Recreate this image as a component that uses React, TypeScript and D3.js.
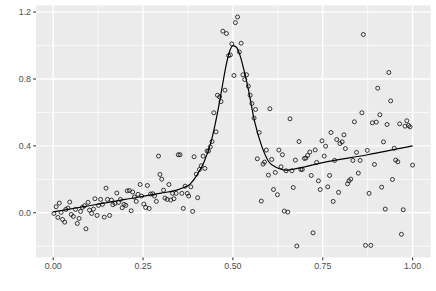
import React, { useEffect, useRef } from "react";
import * as d3 from "d3";

// points
const xValues = [
  0.002, 0.008, 0.013, 0.017, 0.022, 0.026, 0.032, 0.035, 0.041, 0.046,
  0.050, 0.056, 0.062, 0.067, 0.072, 0.076, 0.081, 0.087, 0.091, 0.097,
  0.101, 0.107, 0.112, 0.116, 0.122, 0.126, 0.132, 0.137, 0.142, 0.147,
  0.151, 0.157, 0.162, 0.166, 0.172, 0.177, 0.182, 0.187, 0.192, 0.197,
  0.202, 0.206, 0.212, 0.217, 0.221, 0.226, 0.231, 0.236, 0.242, 0.246,
  0.252, 0.257, 0.262, 0.267, 0.271, 0.277, 0.282, 0.287, 0.293, 0.297,
  0.302, 0.307, 0.311, 0.317, 0.322, 0.327, 0.332, 0.336, 0.342, 0.348,
  0.353, 0.358, 0.362, 0.367, 0.373, 0.377, 0.383, 0.388, 0.392, 0.398,
  0.402, 0.407, 0.412, 0.417, 0.422, 0.428, 0.432, 0.437, 0.442, 0.447,
  0.453, 0.457, 0.463, 0.467, 0.472, 0.478, 0.482, 0.488, 0.493, 0.497,
  0.503, 0.507, 0.513, 0.518, 0.523, 0.528, 0.533, 0.538, 0.543, 0.548,
  0.553, 0.559, 0.563, 0.568, 0.573, 0.579, 0.584, 0.588, 0.593, 0.599,
  0.603, 0.608, 0.613, 0.618, 0.624, 0.628, 0.634, 0.638, 0.643, 0.648,
  0.653, 0.659, 0.664, 0.668, 0.674, 0.678, 0.684, 0.689, 0.693, 0.699,
  0.703, 0.708, 0.714, 0.718, 0.723, 0.729, 0.733, 0.738, 0.743, 0.748,
  0.754, 0.758, 0.764, 0.769, 0.773, 0.779, 0.783, 0.789, 0.794, 0.798,
  0.804, 0.809, 0.813, 0.819, 0.823, 0.828, 0.834, 0.838, 0.844, 0.849,
  0.854, 0.859, 0.863, 0.869, 0.874, 0.879, 0.884, 0.888, 0.894, 0.899,
  0.903, 0.909, 0.914, 0.919, 0.924, 0.929, 0.934, 0.939, 0.944, 0.949,
  0.953, 0.959, 0.964, 0.969, 0.974, 0.979, 0.984, 0.989, 0.993, 1.0,
];

const yValues = [
  -0.004, 0.036, -0.028, 0.058, 0.002, -0.04, -0.056, 0.02, 0.028, 0.064,
  -0.01, -0.022, 0.02, -0.064, -0.034, 0.008, 0.032, 0.042, -0.096, 0.062,
  0.016, -0.004, 0.022, 0.084, -0.016, 0.044, 0.08, 0.05, -0.026, 0.147,
  0.08, -0.016, 0.076, 0.048, 0.056, 0.118, 0.062, 0.08, 0.03, 0.05,
  0.044, 0.131, 0.133, 0.012, 0.124, 0.094, 0.068, 0.11, 0.169, 0.1,
  0.052, 0.032, 0.163, 0.026, 0.112, 0.114, 0.1, 0.068, 0.339, 0.229,
  0.201, 0.135, 0.088, 0.08, 0.169, 0.076, 0.116, 0.084, 0.116, 0.347,
  0.347, 0.116, 0.026, 0.159, 0.116, 0.1, 0.155, 0.008, 0.335, 0.231,
  0.09, 0.259, 0.281, 0.339, 0.265, 0.369, 0.369, 0.394, 0.426, 0.598,
  0.484, 0.703, 0.693, 0.665, 1.086, 0.733, 1.072, 0.94, 0.944, 1.01,
  0.821, 1.137, 1.171, 0.962, 1.014, 0.825, 0.797, 0.825, 0.757, 0.703,
  0.653, 0.566, 0.618, 0.323, 0.48, 0.07, 0.291, 0.303, 0.375, 0.225,
  0.622, 0.319, 0.139, 0.241, 0.108, 0.375, 0.275, 0.347, 0.01, 0.251,
  0.004, 0.562, 0.251, 0.151, 0.315, -0.199, 0.426, 0.259, 0.259, 0.325,
  0.327, 0.343, 0.363, 0.223, -0.12, 0.376, 0.301, 0.191, 0.139, 0.43,
  0.339, 0.398, 0.155, 0.223, 0.48, 0.068, 0.313, 0.438, 0.122, 0.414,
  0.424, 0.466, 0.384, 0.173, 0.191, 0.201, 0.313, 0.544, 0.361, 0.237,
  0.313, 0.598, 1.066, -0.195, 0.373, 0.116, -0.195, 0.538, 0.289, 0.542,
  0.745, 0.586, 0.153, 0.424, 0.022, 0.528, 0.839, 0.669, 0.199, 0.386,
  0.315, 0.305, 0.532, -0.129, 0.018, 0.518, 0.55, 0.522, 0.514, 0.285,
];

// fitted curve
const fitX = [0, 0.1, 0.2, 0.3, 0.35, 0.36, 0.38, 0.4, 0.42, 0.44, 0.46, 0.47, 0.48, 0.49, 0.5,
  0.51, 0.52, 0.53, 0.54, 0.56, 0.58, 0.6, 0.62, 0.64, 0.65, 0.66, 0.75, 0.875, 1.0];
const fitY = [0.005, 0.042, 0.08, 0.117, 0.14, 0.148, 0.17, 0.225, 0.305, 0.43, 0.63, 0.75, 0.87, 0.96, 1.0,
  0.99, 0.94, 0.86, 0.77, 0.55, 0.4, 0.305, 0.272, 0.257, 0.255, 0.258, 0.3, 0.347, 0.4];

const xTicks = [0, 0.25, 0.5, 0.75, 1];
const xTickLabels = ["0.00", "0.25", "0.50", "0.75", "1.00"];
const xMinor = [0.125, 0.375, 0.625, 0.875];
const yTicks = [0, 0.4, 0.8, 1.2];
const yTickLabels = ["0.0", "0.4", "0.8", "1.2"];
const yMinor = [-0.2, 0.2, 0.6, 1.0];

const W = 436;
const H = 291;

export default function App() {
  const ref = useRef<SVGSVGElement>(null);

  useEffect(() => {
    const points = xValues.slice(0, Math.min(xValues.length, yValues.length))
      .map((x, i) => ({ x, y: yValues[i] }));
    const fit = fitX.map((x, i) => ({ x, y: fitY[i] }));

    const left = 36, right = 430.5, top = 5.5, bottom = 257.5;

    const xExt = d3.extent(points, d => d.x) as [number, number];
    const yExt = d3.extent(points, d => d.y) as [number, number];
    const xPad = (xExt[1] - xExt[0]) * 0.05;
    const yPad = (yExt[1] - yExt[0]) * 0.05;

    const x = d3.scaleLinear().domain([xExt[0] - xPad, xExt[1] + xPad]).range([left, right]);
    const y = d3.scaleLinear().domain([yExt[0] - yPad, yExt[1] + yPad]).range([bottom, top]);

    const svg = d3.select(ref.current).html("");

    svg.append("rect")
      .attr("x", left).attr("y", top)
      .attr("width", right - left).attr("height", bottom - top)
      .attr("fill", "#EBEBEB");

    // minor grid
    svg.selectAll(".xminor").data(xMinor).join("line")
      .attr("x1", d => x(d)).attr("x2", d => x(d))
      .attr("y1", top).attr("y2", bottom)
      .attr("stroke", "white").attr("stroke-width", 0.7);
    svg.selectAll(".yminor").data(yMinor).join("line")
      .attr("x1", left).attr("x2", right)
      .attr("y1", d => y(d)).attr("y2", d => y(d))
      .attr("stroke", "white").attr("stroke-width", 0.7);

    // major grid
    svg.selectAll(".xmajor").data(xTicks).join("line")
      .attr("x1", d => x(d)).attr("x2", d => x(d))
      .attr("y1", top).attr("y2", bottom)
      .attr("stroke", "white").attr("stroke-width", 1.4);
    svg.selectAll(".ymajor").data(yTicks).join("line")
      .attr("x1", left).attr("x2", right)
      .attr("y1", d => y(d)).attr("y2", d => y(d))
      .attr("stroke", "white").attr("stroke-width", 1.4);

    svg.append("path")
      .datum(fit)
      .attr("fill", "none")
      .attr("stroke", "black")
      .attr("stroke-width", 1.2)
      .attr("d", d3.line<{ x: number; y: number }>()
        .x(d => x(d.x)).y(d => y(d.y))
        .curve(d3.curveMonotoneX));

    svg.selectAll(".pt").data(points).join("circle")
      .attr("cx", d => x(d.x)).attr("cy", d => y(d.y))
      .attr("r", 2)
      .attr("fill", "none")
      .attr("stroke", "black")
      .attr("stroke-width", 0.75);

    // axes
    const font = "'Liberation Sans', Arial, sans-serif";

    const gx = svg.append("g");
    gx.selectAll("line").data(xTicks).join("line")
      .attr("x1", d => x(d)).attr("x2", d => x(d))
      .attr("y1", bottom).attr("y2", bottom + 2.75)
      .attr("stroke", "#333333").attr("stroke-width", 1.1);
    gx.selectAll("text").data(xTicks).join("text")
      .attr("x", d => x(d)).attr("y", bottom + 5 + 6.6)
      .attr("text-anchor", "middle")
      .attr("font-family", font).attr("font-size", 8.8)
      .attr("fill", "#4D4D4D")
      .text((d, i) => xTickLabels[i]);

    const gy = svg.append("g");
    gy.selectAll("line").data(yTicks).join("line")
      .attr("x1", left - 2.75).attr("x2", left)
      .attr("y1", d => y(d)).attr("y2", d => y(d))
      .attr("stroke", "#333333").attr("stroke-width", 1.1);
    gy.selectAll("text").data(yTicks).join("text")
      .attr("x", left - 5).attr("y", d => y(d) + 3.1)
      .attr("text-anchor", "end")
      .attr("font-family", font).attr("font-size", 8.8)
      .attr("fill", "#4D4D4D")
      .text((d, i) => yTickLabels[i]);
  }, []);

  return (
    <svg ref={ref} width={W} height={H}
      style={{ position: "absolute", left: 0, top: 0, background: "white" }} />
  );
}
